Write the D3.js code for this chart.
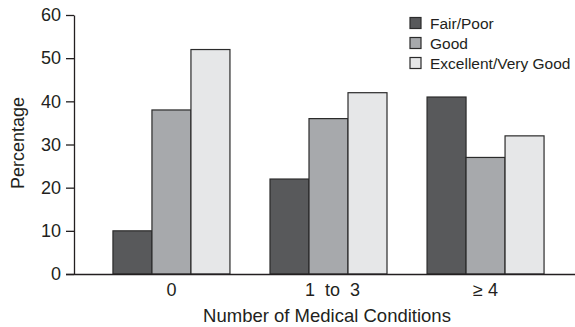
<!DOCTYPE html>
<html><head><meta charset="utf-8">
<script src="https://cdn.jsdelivr.net/npm/d3@7"></script>
<style>
body{margin:0;background:#fff;}
text{font-family:"Liberation Sans",Arial,Helvetica,sans-serif;fill:#231f20;}
</style></head>
<body><svg id="c" width="575" height="327"></svg>
<script>
const categories = ["0", "1 to 3", "\u2265 4"];
const seriesNames = ["Fair/Poor", "Good", "Excellent/Very Good"];
const fairPoor = [10, 22, 41];
const good = [38, 36, 27];
const excellent = [52, 42, 32];
const yTicks = [0, 10, 20, 30, 40, 50, 60];
const colors = ["#58595b", "#a7a9ac", "#e6e7e8"];

const series = [fairPoor, good, excellent];
const svg = d3.select("#c");
const x0 = d3.scaleBand().domain(categories).range([74, 583]).paddingInner(0.255).paddingOuter(0.248);
const x1 = d3.scaleBand().domain(seriesNames).range([0, x0.bandwidth()]);
const y = d3.scaleLinear().domain([0, 60]).range([274, 15]);

// bars
const g = svg.append("g");
categories.forEach((c, ci) => {
  seriesNames.forEach((s, si) => {
    g.append("rect")
      .attr("x", x0(c) + x1(s))
      .attr("y", y(series[si][ci]))
      .attr("width", x1.bandwidth())
      .attr("height", y(0) - y(series[si][ci]))
      .attr("fill", colors[si])
      .attr("stroke", "#2b2b2b")
      .attr("stroke-width", 1.2);
  });
});

// y axis
const ya = svg.append("g").attr("transform", "translate(74,0)")
  .call(d3.axisLeft(y).tickValues(yTicks).tickSize(8).tickPadding(5).tickSizeOuter(0));
ya.select(".domain").attr("stroke", "#231f20").attr("stroke-width", 1.3);
ya.selectAll(".tick line").attr("stroke", "#231f20").attr("stroke-width", 1.3);
ya.selectAll(".tick text").attr("font-size", 18).attr("font-family", null).style("fill", "#231f20");

// x axis
const xa = svg.append("g").attr("transform", "translate(0,274)")
  .call(d3.axisBottom(x0).tickSize(0).tickPadding(9));
xa.select(".domain").attr("stroke", "#231f20").attr("stroke-width", 1.3).attr("d", "M66,0.5H575");
xa.selectAll(".tick text").attr("font-size", 18).attr("font-family", null).style("fill", "#231f20")
  .attr("word-spacing", d => d === "1 to 3" ? 5 : 0)
  .attr("dx", d => d === "1 to 3" ? 4 : 0);

// axis titles
svg.append("text").attr("x", 327).attr("y", 322).attr("text-anchor", "middle")
  .attr("font-size", 18.5).text("Number of Medical Conditions");
svg.append("text").attr("transform", "translate(24,143) rotate(-90)").attr("text-anchor", "middle")
  .attr("font-size", 18).text("Percentage");

// legend
const lg = svg.append("g");
seriesNames.forEach((s, i) => {
  lg.append("rect").attr("x", 410).attr("y", 17.5 + i * 20).attr("width", 11).attr("height", 11)
    .attr("fill", colors[i]).attr("stroke", "#2b2b2b").attr("stroke-width", 1.2);
  lg.append("text").attr("x", 430).attr("y", 28.5 + i * 20).attr("font-size", 15.5).text(s);
});
</script></body></html>
